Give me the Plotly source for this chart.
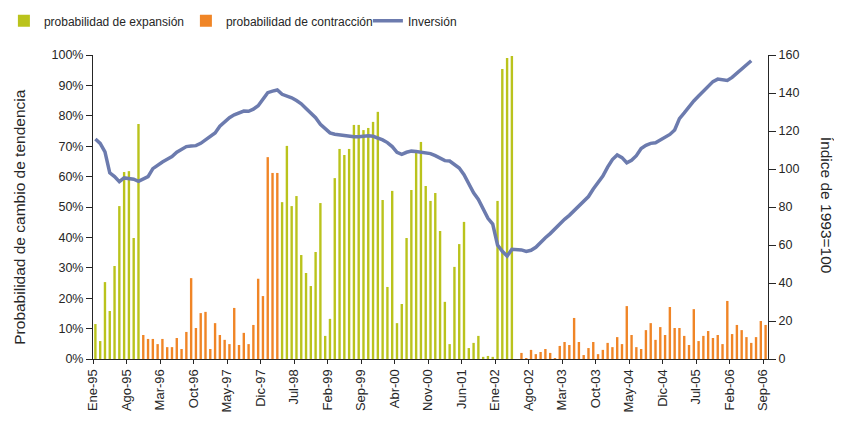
import plotly.graph_objects as go

# ---------------- data ----------------
meses = ["Ene", "Feb", "Mar", "Abr", "May", "Jun", "Jul", "Ago", "Sep", "Oct", "Nov", "Dic"]
fechas = [f"{m}-{str(a)[2:]}" for a in range(1995, 2007) for m in meses][:141]   # Ene-95 .. Sep-06

tick_labels = ["Ene-95", "Ago-95", "Mar-96", "Oct-96", "May-97", "Dic-97", "Jul-98",
               "Feb-99", "Sep-99", "Abr-00", "Nov-00", "Jun-01", "Ene-02", "Ago-02",
               "Mar-03", "Oct-03", "May-04", "Dic-04", "Jul-05", "Feb-06", "Sep-06"]

# probabilidad de expansión (%), by month
expansion = ([11.5, 5.9, 25.3, 15.8, 30.6, 50.3, 61.5, 61.8, 39.8, 77.3]
             + [None] * 29
             + [51.6, 70.1, 50.3, 53.6, 34.2, 28.3, 24.0, 35.2, 51.3, 7.6,
                13.2, 59.5, 69.1, 67.1, 69.1, 77.0, 77.0, 75.3, 76.0, 78.0,
                81.3, 52.3, 23.7, 55.3, 11.8, 18.1, 39.8, 55.6, 67.8, 71.4,
                56.9, 52.0, 54.6, 42.1, 18.8, 4.9, 30.3, 37.8, 45.1, 3.6,
                5.3, 7.6, 0.7, 1.0, 0.7, 52.0, 95.4, 99.0, 99.7]
             + [None] * 53)

# probabilidad de contracción (%), by month
contraccion = ([None] * 10
               + [7.9, 6.6, 6.6, 4.9, 6.6, 3.9, 3.9, 6.9, 3.3, 8.9,
                  26.6, 10.2, 15.1, 15.5, 3.3, 11.8, 7.9, 6.3, 4.9, 16.8,
                  4.6, 8.6, 4.9, 11.2, 26.4, 20.7, 66.4, 61.2, 61.2]
               + [None] * 50
               + [2.0, 0.3, 3.0, 1.6, 2.3, 3.3, 2.0, 0.3, 4.3, 5.6,
                  4.6, 13.5, 5.6, 1.3, 3.6, 5.6, 1.6, 3.0, 5.3, 3.9,
                  7.2, 4.9, 17.4, 7.9, 3.9, 3.3, 9.5, 11.8, 6.3, 10.5,
                  7.9, 17.1, 10.2, 10.2, 7.6, 4.6, 16.4, 5.9, 7.6, 9.2,
                  6.9, 7.9, 4.9, 19.1, 8.2, 11.2, 9.5, 7.2, 5.3, 7.2,
                  12.5, 11.2])

# Inversión (índice 1993=100), Ene-95 .. Jun-06
inversion = [115.8, 113.5, 109.0, 98.0, 96.0, 93.3, 95.3, 95.1, 94.6, 93.5,
             94.6, 96.0, 100.2, 102.1, 103.7, 105.1, 106.5, 108.8, 110.5, 111.8,
             112.1, 112.3, 113.5, 115.3, 117.0, 119.0, 122.5, 125.0, 127.0, 128.5,
             129.4, 130.5, 130.4, 131.5, 133.3, 137.0, 140.2, 141.0, 141.6, 139.3,
             138.4, 137.5, 136.0, 134.3, 131.8, 129.2, 127.0, 123.5, 121.0, 119.0,
             118.3, 118.0, 117.5, 117.1, 117.0, 117.0, 117.4, 117.5, 117.2, 116.4,
             115.3, 113.9, 111.8, 108.8, 107.7, 108.8, 109.4, 109.2, 108.8, 108.6,
             108.1, 107.0, 105.8, 104.4, 104.2, 102.5, 100.5, 97.0, 92.0, 87.5,
             84.0, 79.0, 74.0, 71.0, 60.0, 56.7, 54.2, 57.7, 57.7, 57.4,
             56.6, 57.2, 58.8, 61.5, 63.8, 66.0, 68.5, 71.3, 73.5, 75.6,
             78.0, 80.4, 83.0, 85.5, 89.5, 93.0, 96.3, 101.0, 105.0, 107.4,
             106.0, 103.3, 104.6, 107.0, 110.8, 112.5, 113.5, 113.8, 115.3, 117.0,
             118.2, 120.5, 126.5, 129.5, 133.0, 135.8, 138.4, 141.0, 143.5, 146.0,
             147.3, 147.0, 146.6, 148.2, 150.4, 153.0, 155.3, 157.0]

# ---------------- style ----------------
GREEN = "#BAC31C"
ORANGE = "#F08526"
BLUE = "#6C7BAE"
AXIS = "#262626"
FONT = "Liberation Sans, Arial, sans-serif"

x = list(range(len(fechas)))
tickvals = [fechas.index(t) - 0.5 for t in tick_labels]

fig = go.Figure()
fig.add_trace(go.Bar(x=x, y=expansion, name="probabilidad de expansión",
                     marker=dict(color=GREEN, line=dict(width=0)), width=0.5))
fig.add_trace(go.Bar(x=x, y=contraccion, name="probabilidad de contracción",
                     marker=dict(color=ORANGE, line=dict(width=0)), width=0.5))
fig.add_trace(go.Scatter(x=x[:len(inversion)], y=inversion, name="Inversión", yaxis="y2",
                         mode="lines", line=dict(color=BLUE, width=3.5)))

# page body has an 8px margin, so the figure is 834x413 inside the 842x421 window
fig.update_layout(
    width=834, height=413, autosize=False,
    margin=dict(l=85, r=74, t=47, b=62, autoexpand=False),
    paper_bgcolor="white", plot_bgcolor="white",
    font=dict(family=FONT, size=13, color=AXIS),
    barmode="overlay",
    showlegend=True,
    legend=dict(orientation="h", xref="paper", yref="paper",
                x=-0.132, y=1.16, yanchor="top", xanchor="left",
                entrywidth=137, font=dict(family=FONT, size=12, color=AXIS),
                bgcolor="rgba(0,0,0,0)", traceorder="normal"),
    xaxis=dict(range=[-0.5, 140.5], tickmode="array", tickvals=tickvals, ticktext=tick_labels,
               tickangle=-90, ticks="outside", ticklen=4, tickcolor=AXIS, automargin=False,
               showline=True, linecolor=AXIS, linewidth=1, showgrid=False, zeroline=False,
               tickfont=dict(family=FONT, size=13)),
    yaxis=dict(range=[0, 100], dtick=10, ticksuffix="%", ticks="outside", ticklen=6,
               tickcolor=AXIS, showline=True, linecolor=AXIS, linewidth=1, automargin=False,
               showgrid=False, zeroline=False, tickfont=dict(family=FONT, size=12.5)),
    yaxis2=dict(range=[0, 160], dtick=20, overlaying="y", side="right", anchor="x",
                ticks="outside", ticklen=7, tickcolor=AXIS, showline=True, linecolor=AXIS,
                linewidth=1, showgrid=False, zeroline=False, automargin=False,
                tickfont=dict(family=FONT, size=12.5)),
    yaxis3=dict(range=[0, 160], dtick=20, overlaying="y", side="right", anchor="x",
                ticks="inside", ticklen=6, tickcolor=AXIS, showline=False, automargin=False,
                showticklabels=False, showgrid=False, zeroline=False),
    annotations=[
        dict(text="Probabilidad de cambio de tendencia", xref="paper", yref="paper",
             x=-0.108, y=0.465, textangle=-90, showarrow=False,
             xanchor="center", yanchor="middle", font=dict(family=FONT, size=15.5, color=AXIS)),
        dict(text="Índice de 1993=100", xref="paper", yref="paper",
             x=1.086, y=0.507, textangle=90, showarrow=False,
             xanchor="center", yanchor="middle", font=dict(family=FONT, size=15.5, color=AXIS)),
    ],
)

fig.write_html("out.html")
